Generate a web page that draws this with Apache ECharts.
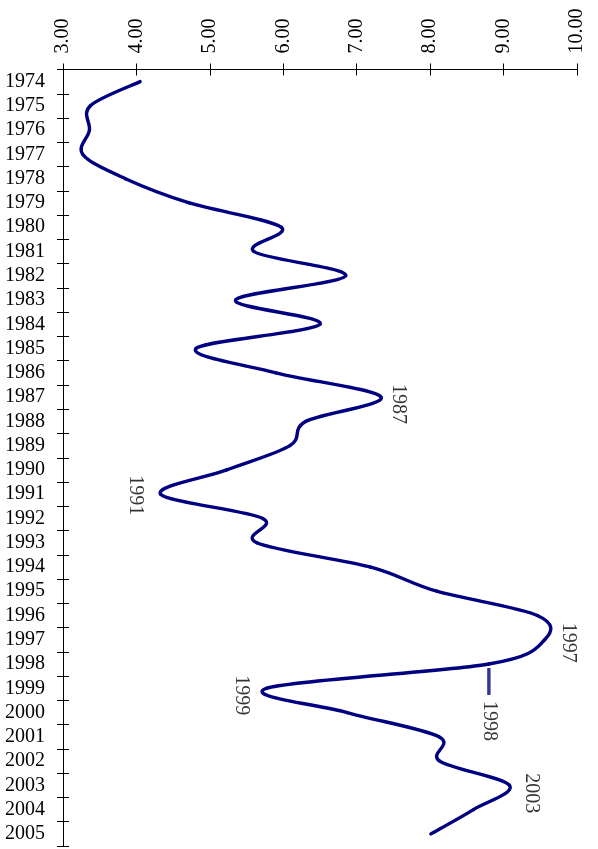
<!DOCTYPE html>
<html><head><meta charset="utf-8">
<script src="https://cdn.jsdelivr.net/npm/echarts@6/dist/echarts.min.js"></script>
<style>html,body{margin:0;padding:0;background:#fff}#c{width:598px;height:849px}</style>
</head><body><div id="c"></div>
<script>
// ---- data ----
const years = ['1974','1975','1976','1977','1978','1979','1980','1981','1982','1983','1984','1985','1986','1987','1988','1989','1990','1991','1992','1993','1994','1995','1996','1997','1998','1999','2000','2001','2002','2003','2004','2005'];
const values = [4.05,3.37,3.36,3.27,3.85,4.72,5.97,5.60,6.85,5.35,6.50,4.81,5.90,7.33,6.31,6.09,5.23,4.33,5.72,5.64,7.18,8.09,9.46,9.56,8.80,5.77,6.87,8.12,8.13,9.08,8.59,8.01];
const valueMin = 3;
const valueMax = 10;
const valueStep = 1;
const labelledYears = ['1987','1991','1997','1998','1999','2003'];

// ---- styles ----
const FONT = 'Liberation Serif';
const NAVY = '#000080';
const labelPlacement = {
  '1987': {position:'right', distance:17, shift:7},
  '1991': {position:'left',  distance:25, shift:1},
  '1997': {position:'right', distance:24, shift:3},
  '1999': {position:'left',  distance:25, shift:7},
  '2003': {position:'right', distance:22, shift:8}
};

const pairs = years.map((y, i) => [values[i], i]);

const labelData = years.map((y, i) => {
  const item = {value: [values[i], i]};
  if (labelledYears.indexOf(y) >= 0) {
    if (y === '1998') {
      item.label = {
        show: true, position: 'bottom', distance: 4, rotate: -90,
        align: 'left', verticalAlign: 'middle',
        formatter: '{bar|}{gap|}{t|' + y + '}',
        rich: {
          bar: {width: 27, height: 3.4, backgroundColor: NAVY},
          gap: {width: 6, height: 3},
          t: {fontFamily: FONT, fontSize: 20, color: '#000'}
        }
      };
    } else {
      const p = labelPlacement[y];
      item.label = {
        show: true, position: p.position, distance: p.distance, rotate: -90,
        align: 'center', verticalAlign: 'middle', offset: [p.shift, 0],
        formatter: y, fontFamily: FONT, fontSize: 20, color: '#000'
      };
    }
  } else {
    item.label = {show: false};
  }
  return item;
});

// Catmull-Rom style smoothing drawn through the axes' own coordinate mapping
function renderSegment(params, api) {
  const i = params.dataIndex;
  const n = values.length;
  if (i >= n - 1) return null;
  const P = k => {
    const kk = Math.max(0, Math.min(n - 1, k));
    return api.coord([values[kk], kk]);
  };
  const p0 = P(i - 1), p1 = P(i), p2 = P(i + 1), p3 = P(i + 2);
  const t = 1 / 6;
  return {
    type: 'bezierCurve',
    shape: {
      x1: p1[0], y1: p1[1], x2: p2[0], y2: p2[1],
      cpx1: p1[0] + (p2[0] - p0[0]) * t, cpy1: p1[1] + (p2[1] - p0[1]) * t,
      cpx2: p2[0] - (p3[0] - p1[0]) * t, cpy2: p2[1] - (p3[1] - p1[1]) * t
    },
    style: {stroke: NAVY, lineWidth: 3.4, fill: null, lineCap: 'round', lineJoin: 'round'},
    silent: true
  };
}

const chart = echarts.init(document.getElementById('c'));
const baseX = {
  type: 'value', position: 'top', min: valueMin, max: valueMax, interval: valueStep,
  axisLine: {show: true, lineStyle: {color: '#000', width: 1}},
  splitLine: {show: false}
};
const baseY = {
  type: 'category', data: years, inverse: true, boundaryGap: true, position: 'left',
  axisLine: {show: true, lineStyle: {color: '#000', width: 1}},
  splitLine: {show: false}
};
chart.setOption({
  animation: false,
  backgroundColor: '#fff',
  grid: {left: 63, right: 21, top: 69.5, bottom: 3, containLabel: false},
  xAxis: [
    Object.assign({}, baseX, {
      axisTick: {show: true, inside: false, length: 6, lineStyle: {color: '#000'}},
      axisLabel: {rotate: -90, margin: 16, fontFamily: FONT, fontSize: 20, color: '#000',
                  formatter: v => v.toFixed(2)}
    }),
    Object.assign({}, baseX, {
      axisTick: {show: true, inside: true, length: 6, lineStyle: {color: '#000'}},
      axisLabel: {show: false}
    })
  ],
  yAxis: [
    Object.assign({}, baseY, {
      axisTick: {show: true, inside: false, length: 6, interval: 0, lineStyle: {color: '#000'}},
      axisLabel: {interval: 0, margin: 18, fontFamily: FONT, fontSize: 20, color: '#000'}
    }),
    Object.assign({}, baseY, {
      axisTick: {show: true, inside: true, length: 6, interval: 0, lineStyle: {color: '#000'}},
      axisLabel: {show: false}
    })
  ],
  series: [{
    type: 'custom',
    xAxisIndex: 0, yAxisIndex: 0,
    data: pairs,
    encode: {x: 0, y: 1},
    renderItem: renderSegment,
    clip: false,
    silent: true
  }, {
    type: 'scatter',
    xAxisIndex: 0, yAxisIndex: 0,
    data: labelData,
    symbolSize: 0,
    itemStyle: {color: NAVY},
    emphasis: {disabled: true},
    silent: true
  }]
});
</script>
</body></html>
